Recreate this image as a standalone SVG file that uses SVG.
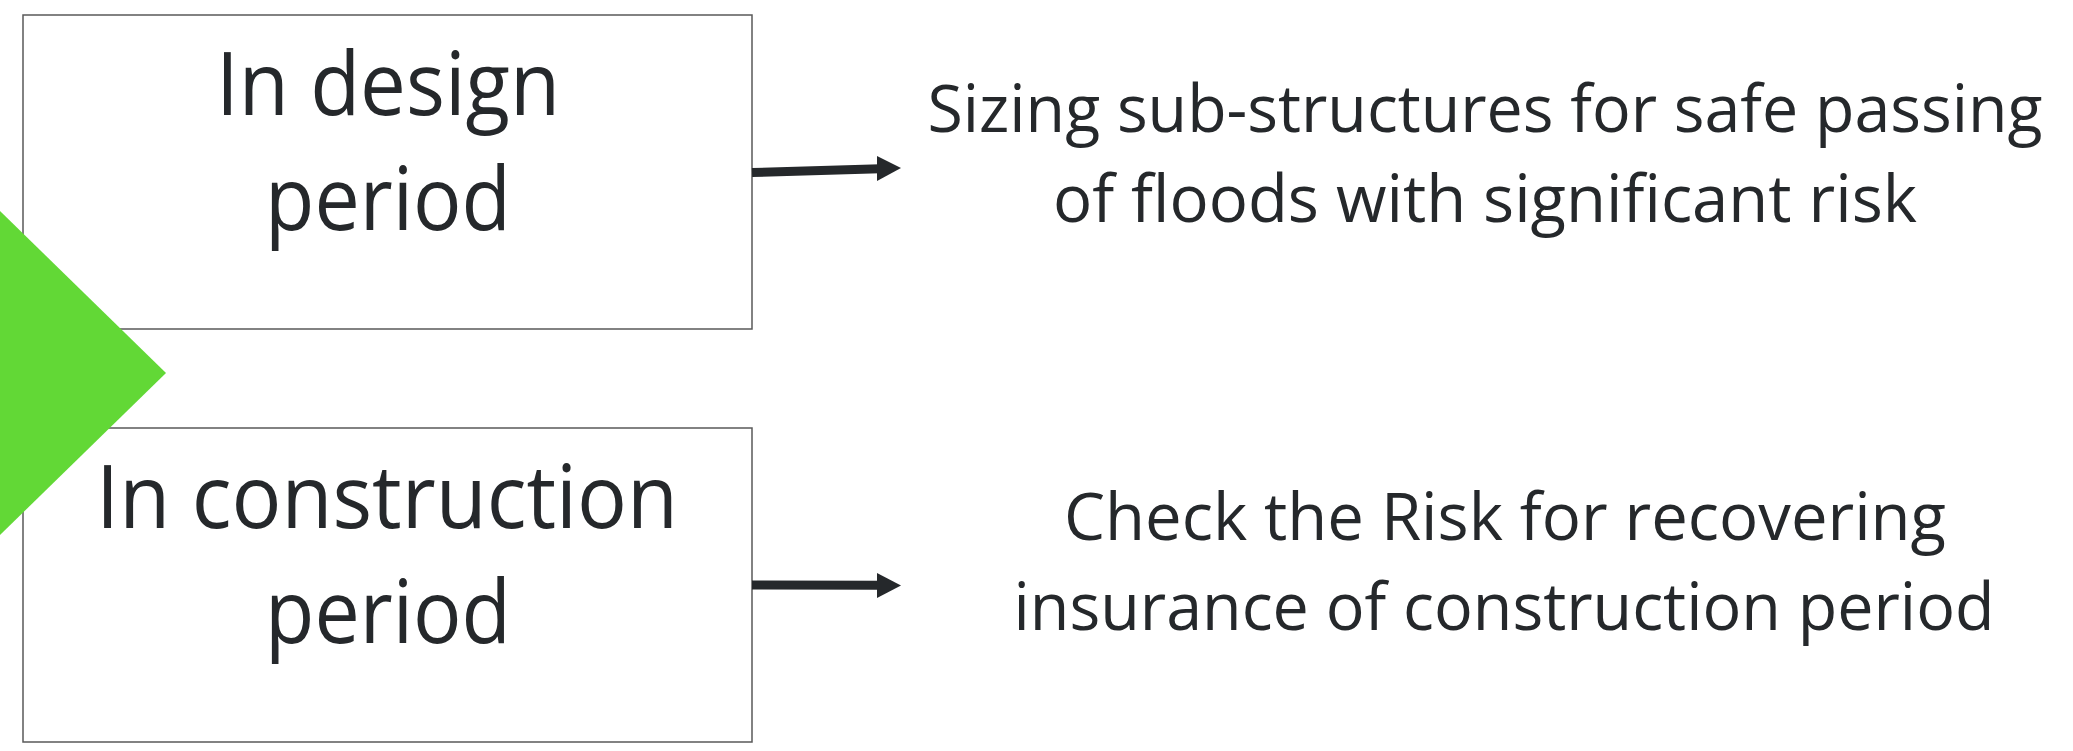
<svg xmlns="http://www.w3.org/2000/svg" width="2073" height="751" viewBox="0 0 2073 751">
  <style>
    .box { fill: #ffffff; stroke: #595959; stroke-width: 1.5; }
    .lbl { font-family: "Open Sans", "Liberation Sans", sans-serif; fill: #25282b; text-anchor: middle; }
    .big { font-size: 88px; }
    .mid { font-size: 66px; }
    .conn { stroke: #25282b; stroke-width: 9; fill: none; }
    .head { fill: #25282b; }
  </style>

  <g id="node-design">
    <rect class="box" x="23" y="15" width="729" height="314"/>
    <text class="lbl big" x="388" y="115" textLength="344" lengthAdjust="spacingAndGlyphs">In design</text>
    <text class="lbl big" x="388" y="230" textLength="246" lengthAdjust="spacingAndGlyphs">period</text>
  </g>

  <g id="node-construction">
    <rect class="box" x="23" y="428" width="729" height="314"/>
    <text class="lbl big" x="387" y="528" textLength="582" lengthAdjust="spacingAndGlyphs">In construction</text>
    <text class="lbl big" x="388" y="643" textLength="246" lengthAdjust="spacingAndGlyphs">period</text>
  </g>

  <!-- green pointer at the left edge -->
  <g id="pointer">
    <polygon points="0,211 166,373 0,535" fill="#62d836"/>
  </g>

  <g id="node-sizing">
    <text class="lbl mid" x="1485" y="132" textLength="1115" lengthAdjust="spacingAndGlyphs">Sizing sub-structures for safe passing</text>
    <text class="lbl mid" x="1485" y="222" textLength="864" lengthAdjust="spacingAndGlyphs">of floods with significant risk</text>
  </g>

  <g id="node-check">
    <text class="lbl mid" x="1505" y="540" textLength="882" lengthAdjust="spacingAndGlyphs">Check the Risk for recovering</text>
    <text class="lbl mid" x="1504" y="630" textLength="981" lengthAdjust="spacingAndGlyphs">insurance of construction period</text>
  </g>

  <g id="connectors">
    <line class="conn" x1="752" y1="172.5" x2="880" y2="168.7"/>
    <polygon class="head" points="877,156 901,168 877,181"/>
    <line class="conn" x1="752" y1="585" x2="880" y2="585.3"/>
    <polygon class="head" points="877,573 901,585.5 877,598"/>
  </g>
</svg>
